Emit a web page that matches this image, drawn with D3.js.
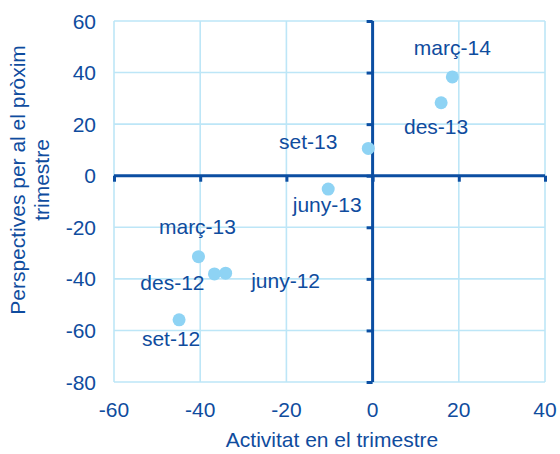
<!DOCTYPE html>
<html>
<head>
<meta charset="utf-8">
<script src="https://cdn.jsdelivr.net/npm/d3@7"></script>
<style>
	body { margin: 0; background: #fff; }
	text { font-family: "Liberation Sans", Arial, sans-serif; fill: #0f4c9e; }
</style>
</head>
<body>
<div id="chart"></div>
<script>

// Data
var periods = ["set-12", "des-12", "març-13", "juny-12", "juny-13", "set-13", "des-13", "març-14"];
var activitat = [-44.9, -36.7, -40.4, -34.1, -10.3, -1.0, 15.9, 18.5];
var perspectives = [-55.9, -38.1, -31.4, -37.8, -5.2, 10.6, 28.3, 38.3];
var xTicks = [-60, -40, -20, 0, 20, 40];
var yTicks = [-80, -60, -40, -20, 0, 20, 40, 60];

// Where each label sits relative to its point (px)
var labelDx = [-8, -42, -1, 60, -1, -60, -5, 0];
var labelDy = [19, 8, -30, 7, 15, -7, 24, -30];

var width = 560, height = 454;
var margin = {left: 114, right: 15, top: 21, bottom: 72};

var gridColor = "#bde6f7";
var axisColor = "#0b4ea2";
var pointColor = "#8ed3f4";
var fontSize = 21;

var svg = d3.select("#chart").append("svg")
	.attr("width", width).attr("height", height);

var x = d3.scaleLinear().domain([-60, 40]).range([margin.left, width - margin.right]);
var y = d3.scaleLinear().domain([-80, 60]).range([height - margin.bottom, margin.top]);

// Grid
var grid = svg.append("g").attr("stroke", gridColor).attr("stroke-width", 1.6);
grid.selectAll("line.vx").data(xTicks).enter().append("line")
	.attr("x1", function(d) { return x(d); }).attr("x2", function(d) { return x(d); })
	.attr("y1", y(60)).attr("y2", y(-80));
grid.selectAll("line.hy").data(yTicks).enter().append("line")
	.attr("y1", function(d) { return y(d); }).attr("y2", function(d) { return y(d); })
	.attr("x1", x(-60)).attr("x2", x(40));

// Zero axes with ticks
var xAxis = d3.axisBottom(x).tickValues(xTicks).tickSize(6).tickFormat("");
var yAxis = d3.axisLeft(y).tickValues(yTicks).tickSize(6).tickFormat("");

svg.append("g").attr("transform", "translate(0," + y(0) + ")").call(xAxis)
	.call(function(g) {
		g.selectAll("path, line").attr("stroke", axisColor).attr("stroke-width", 3);
		g.select("path").attr("d", "M" + x(-60) + ",0H" + x(40));
	});
svg.append("g").attr("transform", "translate(" + x(0) + ",0)").call(yAxis)
	.call(function(g) {
		g.selectAll("path, line").attr("stroke", axisColor).attr("stroke-width", 3);
		g.select("path").attr("d", "M0," + y(60) + "V" + y(-80));
	});

// Tick labels
svg.selectAll("text.xt").data(xTicks).enter().append("text")
	.attr("x", function(d) { return x(d); })
	.attr("y", y(-80) + 35)
	.attr("text-anchor", "middle")
	.style("font-size", fontSize + "px")
	.text(function(d) { return d; });

svg.selectAll("text.yt").data(yTicks).enter().append("text")
	.attr("x", x(-60) - 18)
	.attr("y", function(d) { return y(d); })
	.attr("dy", "0.36em")
	.attr("text-anchor", "end")
	.style("font-size", fontSize + "px")
	.text(function(d) { return d; });

// Axis titles
svg.append("text")
	.attr("x", 332).attr("y", 447)
	.attr("text-anchor", "middle")
	.style("font-size", fontSize + "px")
	.text("Activitat en el trimestre");

var yTitle = svg.append("text")
	.attr("transform", "translate(25,180) rotate(-90)")
	.attr("text-anchor", "middle")
	.style("font-size", fontSize + "px");
yTitle.append("tspan").attr("x", 0).attr("dy", 0).text("Perspectives per al el pròxim");
yTitle.append("tspan").attr("x", 0).attr("dy", 24).text("trimestre");

// Points
svg.selectAll("circle.pt").data(periods).enter().append("circle")
	.attr("cx", function(d, i) { return x(activitat[i]); })
	.attr("cy", function(d, i) { return y(perspectives[i]); })
	.attr("r", 6.5)
	.attr("fill", pointColor);

// Point labels
svg.selectAll("text.lbl").data(periods).enter().append("text")
	.attr("x", function(d, i) { return x(activitat[i]) + labelDx[i]; })
	.attr("y", function(d, i) { return y(perspectives[i]) + labelDy[i]; })
	.attr("dy", "0.36em")
	.attr("text-anchor", "middle")
	.style("font-size", fontSize + "px")
	.text(function(d) { return d; });

</script>
</body>
</html>
